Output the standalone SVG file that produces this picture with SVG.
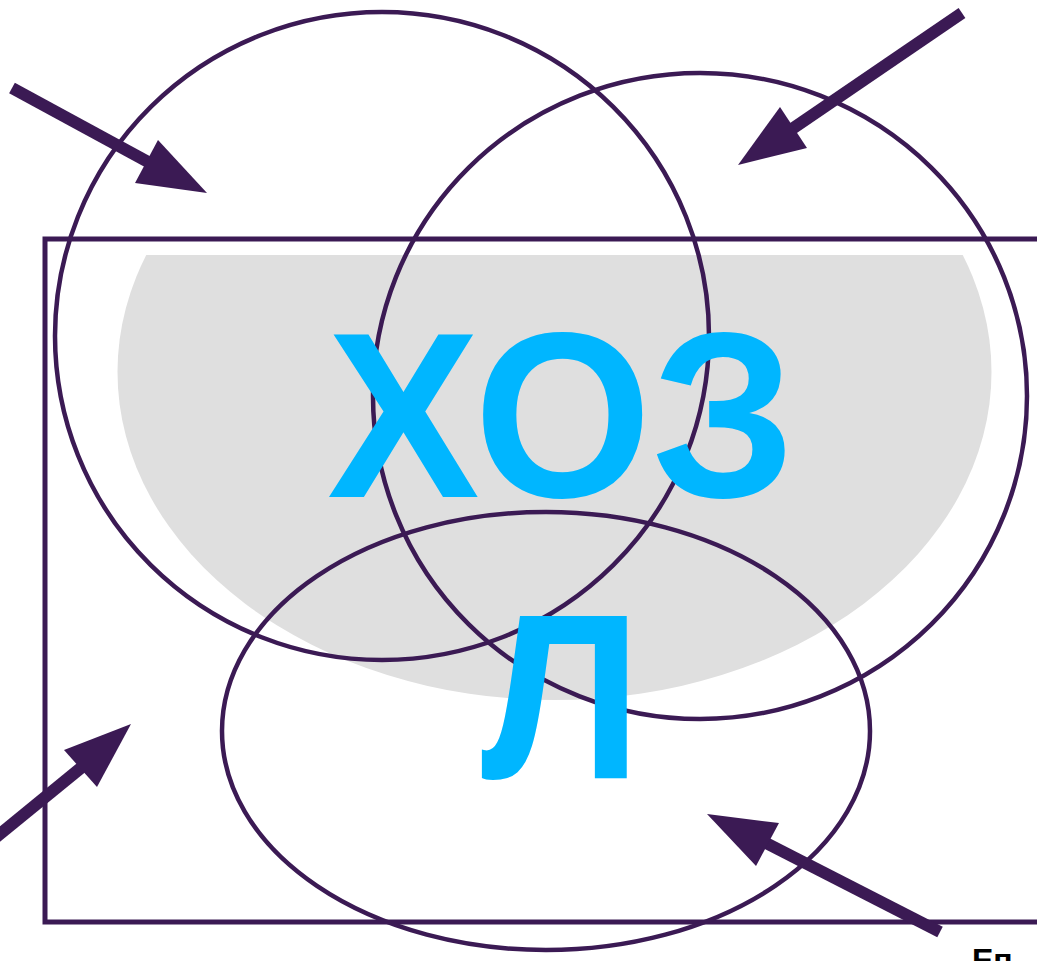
<svg xmlns="http://www.w3.org/2000/svg" width="1037" height="961" viewBox="0 0 1037 961">
<style>
.ring{fill:none;stroke:#3b1a54;stroke-width:4.5}
.frame{fill:none;stroke:#3b1a54;stroke-width:5}
.shaft{stroke:#3b1a54;stroke-width:12;stroke-linecap:butt}
.head{fill:#3b1a54}
.big{font-family:"Liberation Sans","DejaVu Sans",sans-serif;font-size:236px;font-weight:bold;fill:#00b6ff}
.small{font-family:"Liberation Sans","DejaVu Sans",sans-serif;font-size:32px;font-weight:bold;fill:#000}
</style>
<defs>
<clipPath id="topcut"><rect x="0" y="255" width="1037" height="706"/></clipPath>
</defs>
<rect width="1037" height="961" fill="#fff"/>
<g id="backdrop">
<ellipse cx="554.5" cy="372" rx="437" ry="328" fill="#dfdfdf" clip-path="url(#topcut)"/>
</g>
<g id="frame">
<rect class="frame" x="45" y="239" width="1010" height="683"/>
</g>
<g id="set-left"><ellipse class="ring" cx="382" cy="336" rx="327" ry="324"/></g>
<g id="set-right"><ellipse class="ring" cx="700" cy="396" rx="327" ry="323"/></g>
<g id="set-bottom"><ellipse class="ring" cx="546" cy="731" rx="324" ry="219"/></g>
<g id="label-hoz"><text class="big" x="327" y="497" textLength="468" lengthAdjust="spacingAndGlyphs">ХОЗ</text></g>
<g id="label-l"><text class="big" x="481" y="778" textLength="161" lengthAdjust="spacingAndGlyphs">Л</text></g>
<g id="label-corner"><text class="small" x="972" y="971">Еп</text></g>
<g id="connectors">
<line class="shaft" x1="12" y1="88" x2="150" y2="163"/>
<polygon class="head" points="158,140 207,193 135,183"/>
<line class="shaft" x1="962" y1="13" x2="792" y2="129"/>
<polygon class="head" points="780,107 738,165 807,148"/>
<line class="shaft" x1="-5" y1="838" x2="82" y2="767"/>
<polygon class="head" points="64,750 131,724 97,787"/>
<line class="shaft" x1="940" y1="932" x2="766" y2="843"/>
<polygon class="head" points="779,823 707,814 756,866"/>
</g>
</svg>
